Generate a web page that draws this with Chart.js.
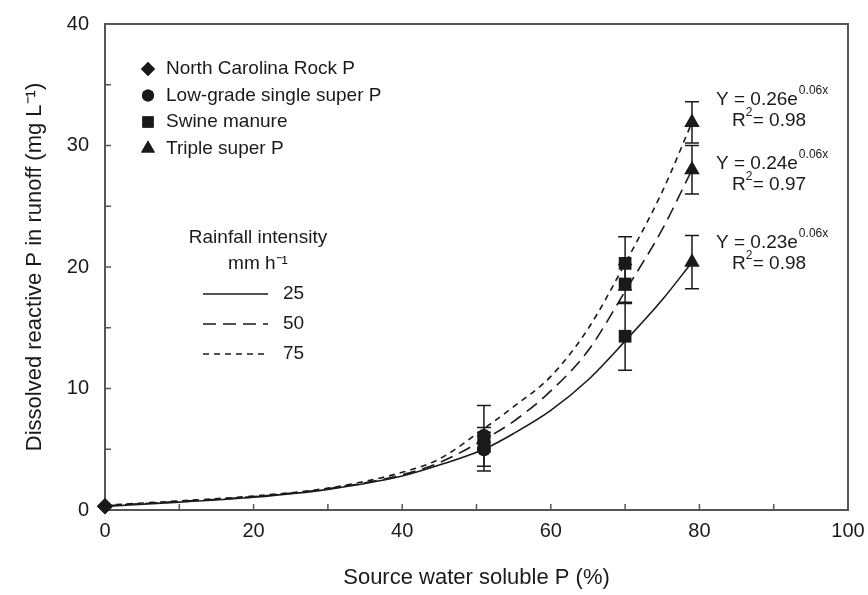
<!DOCTYPE html>
<html lang="en">
<head>
<meta charset="UTF-8" />
<title>Dissolved reactive P vs source water soluble P</title>
<script src="https://cdn.jsdelivr.net/npm/chart.js"></script>
<style>
  html, body { margin: 0; padding: 0; background: #fff; }
  #wrap { width: 868px; height: 595px; }
</style>
</head>
<body>
<div id="wrap"><canvas id="drpChart"></canvas></div>

<script>
  // sources and their water soluble P (%)
  const sources = ['North Carolina Rock P', 'Low-grade single super P', 'Swine manure', 'Triple super P'];
  const sourceStyles = ['rectRot', 'circle', 'rect', 'triangle'];
  const solubleP = [0, 51, 70, 79];

  // measured DRP (mg/L) per rainfall intensity, one value per source
  const drp25 = [0.3, 5.0, 14.3, 20.4];
  const drp50 = [0.3, 5.6, 18.6, 28.0];
  const drp75 = [0.3, 6.1, 20.3, 31.9];
  const err25 = [0, 1.8, 2.8, 2.2];
  const err50 = [0, 0.8, 1.6, 2.0];
  const err75 = [0, 2.5, 2.2, 1.7];

  // fitted curves
  const curveX = [0, 10, 20, 30, 40, 45, 51, 55, 60, 65, 70, 75, 79];
  const curve25 = [0.3, 0.65, 1.05, 1.7, 2.8, 3.7, 5.0, 6.3, 8.2, 10.7, 13.9, 17.3, 20.4];
  const curve50 = [0.35, 0.7, 1.1, 1.75, 2.9, 3.9, 5.8, 7.3, 9.8, 13.1, 18.0, 23.1, 28.0];
  const curve75 = [0.4, 0.75, 1.15, 1.8, 3.1, 4.2, 6.7, 8.5, 11.0, 14.9, 20.3, 26.2, 31.9];

  const intensities = ['25', '50', '75'];
  const dashes = [[], [13, 7], [6, 5]];
  const equations = [
    { coef: 'Y = 0.26e', exp: '0.06x', r2: '0.98' },
    { coef: 'Y = 0.24e', exp: '0.06x', r2: '0.97' },
    { coef: 'Y = 0.23e', exp: '0.06x', r2: '0.98' }
  ];

  const INK = '#1a1a1a';
  const FONT = 'Liberation Sans, Arial, sans-serif';
  const markerRadius = [8, 7, 9, 9];

  function pts(xs, ys) {
    return xs.map((x, i) => ({ x: x, y: ys[i] }));
  }

  const curveSets = [curve25, curve50, curve75].map((c, i) => ({
    type: 'line',
    label: 'fit ' + intensities[i],
    data: pts(curveX, c),
    borderColor: INK,
    borderWidth: 1.6,
    borderDash: dashes[i],
    pointRadius: 0,
    fill: false,
    cubicInterpolationMode: 'monotone'
  }));

  // one scatter set per source (three intensities each)
  const drpAll = [drp25, drp50, drp75];
  const markerSets = sources.map((name, s) => ({
    type: 'scatter',
    label: name,
    data: drpAll.map(arr => ({ x: solubleP[s], y: arr[s] })),
    pointStyle: sourceStyles[s],
    pointRadius: markerRadius[s],
    backgroundColor: INK,
    borderColor: INK,
    borderWidth: 0,
    clip: false
  }));

  const frameAndTicks = {
    id: 'frameAndTicks',
    beforeDatasetsDraw(chart) {
      const { ctx, chartArea: a, scales: { x, y } } = chart;
      ctx.save();
      ctx.strokeStyle = '#555';
      ctx.lineWidth = 2;
      ctx.strokeRect(a.left, a.top, a.right - a.left, a.bottom - a.top);
      ctx.lineWidth = 1.5;
      ctx.beginPath();
      for (let v = 10; v < 100; v += 10) {
        const px = x.getPixelForValue(v);
        ctx.moveTo(px, a.bottom);
        ctx.lineTo(px, a.bottom - 6);
      }
      for (let v = 5; v < 40; v += 5) {
        const py = y.getPixelForValue(v);
        ctx.moveTo(a.left, py);
        ctx.lineTo(a.left + 6, py);
      }
      ctx.stroke();

      // error bars
      ctx.strokeStyle = INK;
      ctx.lineWidth = 1.5;
      const errs = [err25, err50, err75];
      errs.forEach((err, k) => {
        err.forEach((e, s) => {
          if (!e) return;
          const px = x.getPixelForValue(solubleP[s]);
          const top = y.getPixelForValue(drpAll[k][s] + e);
          const bot = y.getPixelForValue(drpAll[k][s] - e);
          ctx.beginPath();
          ctx.moveTo(px, top); ctx.lineTo(px, bot);
          ctx.moveTo(px - 7, top); ctx.lineTo(px + 7, top);
          ctx.moveTo(px - 7, bot); ctx.lineTo(px + 7, bot);
          ctx.stroke();
        });
      });
      ctx.restore();
    },
    afterDatasetsDraw(chart) {
      const { ctx } = chart;
      ctx.save();
      ctx.fillStyle = INK;
      ctx.strokeStyle = INK;
      ctx.textBaseline = 'middle';

      // source legend
      ctx.font = '19px ' + FONT;
      sources.forEach((name, s) => {
        const yy = 69 + s * 26.5;
        Chart.helpers.drawPoint(ctx, { pointStyle: sourceStyles[s], radius: markerRadius[s] - 1, rotation: 0, borderWidth: 0 }, 148, yy);
        ctx.fill();
        ctx.fillText(name, 166, yy);
      });

      // rainfall legend
      ctx.textAlign = 'center';
      ctx.fillText('Rainfall intensity', 258, 238);
      ctx.fillText('mm h\u207B\u00B9', 258, 264);
      ctx.textAlign = 'left';
      intensities.forEach((lab, i) => {
        const yy = 294 + i * 30;
        ctx.beginPath();
        ctx.setLineDash(dashes[i]);
        ctx.lineWidth = 1.6;
        ctx.moveTo(203, yy);
        ctx.lineTo(268, yy);
        ctx.stroke();
        ctx.setLineDash([]);
        ctx.fillText(lab, 283, yy);
      });

      // equations
      const eqY = [100, 164, 243];
      equations.forEach((eq, i) => {
        const y0 = eqY[i];
        ctx.font = '19px ' + FONT;
        ctx.fillText(eq.coef, 716, y0);
        const w = ctx.measureText(eq.coef).width;
        ctx.font = '12px ' + FONT;
        ctx.fillText(eq.exp, 716 + w + 1, y0 - 9);
        ctx.font = '19px ' + FONT;
        ctx.fillText('R', 732, y0 + 21);
        const rw = ctx.measureText('R').width;
        ctx.font = '12px ' + FONT;
        ctx.fillText('2', 732 + rw, y0 + 13);
        ctx.font = '19px ' + FONT;
        ctx.fillText('= ' + eq.r2, 732 + rw + 7, y0 + 21);
      });
      ctx.restore();
    }
  };

  new Chart(document.getElementById('drpChart'), {
    data: { datasets: [...curveSets, ...markerSets] },
    options: {
      responsive: true,
      maintainAspectRatio: false,
      animation: false,
      layout: { padding: { top: 24, right: 20, left: 0, bottom: 0 } },
      plugins: {
        legend: { display: false },
        tooltip: { enabled: false }
      },
      scales: {
        x: {
          type: 'linear',
          min: 0, max: 100,
          grid: { display: false, drawTicks: false },
          border: { display: false },
          ticks: { stepSize: 20, padding: 9, color: INK, font: { size: 20, family: FONT } },
          title: {
            display: true,
            text: 'Source water soluble P (%)',
            color: INK,
            font: { size: 22, family: FONT },
            padding: { top: 0, bottom: 4 }
          },
          afterFit: s => { s.height = 85; s.paddingLeft = 0; s.paddingRight = 0; }
        },
        y: {
          min: 0, max: 40,
          grid: { display: false, drawTicks: false },
          border: { display: false },
          ticks: { stepSize: 10, padding: 16, color: INK, font: { size: 20, family: FONT } },
          title: {
            display: true,
            text: 'Dissolved reactive P in runoff (mg L\u207B\u00B9)',
            color: INK,
            font: { size: 22, family: FONT },
            padding: { top: 22, bottom: 0 }
          },
          afterFit: s => { s.width = 105; s.paddingTop = 0; s.paddingBottom = 0; }
        }
      }
    },
    plugins: [frameAndTicks]
  });
</script>
</body>
</html>
